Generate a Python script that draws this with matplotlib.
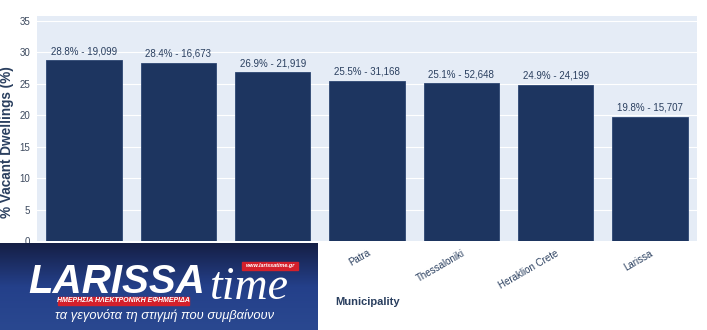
import numpy as np
import matplotlib.pyplot as plt
from matplotlib.patches import Rectangle
from matplotlib.colors import LinearSegmentedColormap

plt.rcParams['font.family'] = ['Liberation Sans', 'DejaVu Sans']

municipalities = ['Rhodes', 'Chania', 'Volos', 'Patra', 'Thessaloniki', 'Heraklion Crete', 'Larissa']
vacant_pct = [28.8, 28.4, 26.9, 25.5, 25.1, 24.9, 19.8]
vacant_count = [19099, 16673, 21919, 31168, 52648, 24199, 15707]
y_ticks = [0, 5, 10, 15, 20, 25, 30, 35]

W, H = 707, 330
fig = plt.figure(figsize=(W / 100, H / 100), dpi=100)
fig.patch.set_facecolor('white')

ax = fig.add_axes([37 / W, 1 - 241 / H, 660 / W, 225 / H])
ax.set_facecolor('#e5ecf6')
x = np.arange(len(municipalities))
ax.bar(x, vacant_pct, width=0.8, color='#1d3560', edgecolor='#2d4672', linewidth=0.6, zorder=3)
for xi, p, c in zip(x, vacant_pct, vacant_count):
    ax.text(xi, p + 0.6, f'{p}% - {c:,}', ha='center', va='bottom', fontsize=7, color='#2a3f5f', zorder=4)

ax.set_xlim(-0.5, len(municipalities) - 0.5)
ax.set_ylim(0, 35.8)
ax.set_yticks(y_ticks)
ax.yaxis.grid(True, color='white', linewidth=0.8, zorder=0)
ax.tick_params(axis='y', length=0, pad=5, labelsize=7, labelcolor='#3d4a5f')
ax.set_xticks(x)
ax.set_xticklabels(municipalities, rotation=30, ha='right', rotation_mode='anchor')
ax.tick_params(axis='x', length=0, pad=5, labelsize=7, labelcolor='#2a3f5f')
for s in ax.spines.values():
    s.set_visible(False)

fig.text(7 / W, 1 - 142 / H, '% Vacant Dwellings (%)', rotation=90, ha='center', va='center',
         fontsize=9.8, fontweight='bold', color='#2a3f5f')
fig.text(368 / W, 1 - 302 / H, 'Municipality', ha='center', va='center', fontsize=8,
         fontweight='bold', color='#2a3f5f')

# newspaper banner in the lower left corner
lg = fig.add_axes([0, 0, 318 / W, 87 / H])
grad = np.linspace(0, 1, 100).reshape(-1, 1)
cmap = LinearSegmentedColormap.from_list('banner', ['#2a4890', '#24408a', '#151f45'])
lg.imshow(grad, aspect='auto', cmap=cmap, extent=[0, 318, 87, 0], origin='lower')
lg.set_xlim(0, 318)
lg.set_ylim(87, 0)
lg.axis('off')

lg.text(28, 50, 'LARISSA', color='white', fontsize=29, fontweight='bold', style='italic',
        ha='left', va='baseline')
lg.text(210, 56, 'time', color='white', fontsize=33, style='italic',
        family=['Liberation Serif', 'DejaVu Serif'], ha='left', va='baseline')
lg.add_patch(Rectangle((242, 19), 56, 8, color='#d4202b', zorder=5))
lg.text(270, 23, 'www.larissatime.gr', color='white', fontsize=4, fontweight='bold', style='italic',
        ha='center', va='center', zorder=6)
lg.add_patch(Rectangle((58, 54), 131, 8, color='#d4202b', zorder=5))
lg.text(123, 58, 'ΗΜΕΡΗΣΙΑ ΗΛΕΚΤΡΟΝΙΚΗ ΕΦΗΜΕΡΙΔΑ', color='white', fontsize=5, fontweight='bold',
        style='italic', ha='center', va='center', zorder=6)
lg.text(165, 73, 'τα γεγονότα τη στιγμή που συμβαίνουν', color='white', fontsize=9.3, style='italic',
        ha='center', va='center')

fig.savefig('out.png', dpi=100)
